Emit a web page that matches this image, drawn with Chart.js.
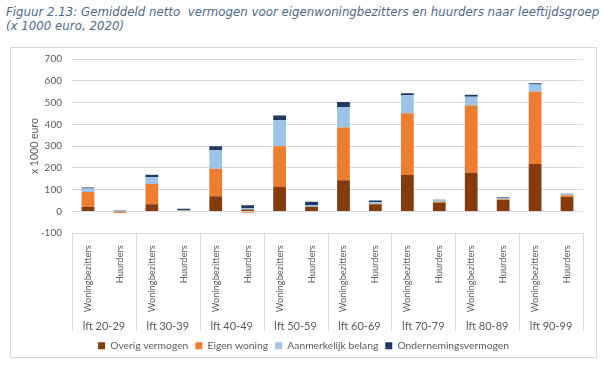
<!DOCTYPE html>
<html><head><meta charset="utf-8">
<script src="https://cdn.jsdelivr.net/npm/chart.js@4"></script>
<style>
html,body{margin:0;padding:0;background:#fff;width:603px;height:365px;overflow:hidden}
#title{position:absolute;left:6px;top:5px;font-family:"DejaVu Sans";font-style:italic;font-size:11.8px;line-height:14px;color:#4e6a88;white-space:nowrap}
#box{position:absolute;left:10px;top:47px;width:585px;height:309px;border:1px solid #d9d9d9}
canvas{display:block}
</style></head><body>
<div id="title">Figuur 2.13: Gemiddeld netto&nbsp; vermogen voor eigenwoningbezitters en huurders naar leeftijdsgroep<br>(x 1000 euro, 2020)</div>
<div id="box"><canvas id="c" width="585" height="309" style="width:585px;height:309px"></canvas></div>
<script>
const groups = ['lft 20-29','lft 30-39','lft 40-49','lft 50-59','lft 60-69','lft 70-79','lft 80-89','lft 90-99'];
const subLabels = ['Woningbezitters','Huurders','Woningbezitters','Huurders','Woningbezitters','Huurders','Woningbezitters','Huurders',
                   'Woningbezitters','Huurders','Woningbezitters','Huurders','Woningbezitters','Huurders','Woningbezitters','Huurders'];
const overigVermogen      = [21, 1, 33, 2, 70, 9, 112, 21, 143, 33, 167, 40, 178, 52, 218, 66];
const eigenWoning         = [68, -7, 93, 1, 126, -6, 187, 1, 242, 2, 284, 4, 309, 4, 332, 8];
const aanmerkelijkBelang  = [16, 3, 32, 2, 85, 7, 120, 8, 95, 7, 83, 8, 40, 7, 33, 5];
const ondernemingsvermogen= [5, 2, 10, 7, 18, 12, 22, 15, 22, 8, 9, 2, 9, 3, 6, 2];
const yTicks = {min: -100, max: 700, step: 100};

const txt = '#595959';
const fontFam = 'Lato';

const separators = {
  id: 'separators',
  afterDraw(chart) {
    const x = chart.scales.x, x2 = chart.scales.x2, ctx = chart.ctx;
    const per = subLabels.length / groups.length;
    ctx.save();
    ctx.strokeStyle = '#d9d9d9';
    ctx.lineWidth = 1;
    for (let g = 0; g <= groups.length; g++) {
      let px;
      if (g === 0) px = chart.chartArea.left;
      else if (g === groups.length) px = chart.chartArea.right;
      else px = (x.getPixelForValue(per * g - 1) + x.getPixelForValue(per * g)) / 2;
      px = Math.round(px) + 0.5;
      ctx.beginPath();
      ctx.moveTo(px, chart.chartArea.bottom);
      ctx.lineTo(px, x2.top + 17);
      ctx.stroke();
    }
    ctx.restore();
  }
};

new Chart(document.getElementById('c'), {
  type: 'bar',
  data: {
    labels: subLabels,
    datasets: [
      {label: 'Overig vermogen', data: overigVermogen, backgroundColor: '#843C0C'},
      {label: 'Eigen woning', data: eigenWoning, backgroundColor: '#ED7D31'},
      {label: 'Aanmerkelijk belang', data: aanmerkelijkBelang, backgroundColor: '#9DC3E6'},
      {label: 'Ondernemingsvermogen', data: ondernemingsvermogen, backgroundColor: '#1F3864'}
    ]
  },
  plugins: [separators],
  options: {
    responsive: false,
    animation: false,
    devicePixelRatio: 1,
    datasets: {bar: {categoryPercentage: 1, barPercentage: 0.4}},
    layout: {padding: {left: 13, right: 13, top: 11, bottom: -4}},
    plugins: {
      tooltip: {enabled: false},
      legend: {
        position: 'bottom',
        labels: {boxWidth: 7, boxHeight: 7, padding: 7, color: txt, font: {family: fontFam, size: 10.3}}
      }
    },
    scales: {
      x: {
        stacked: true,
        weight: 0,
        grid: {display: false},
        border: {display: false},
        ticks: {autoSkip: false, maxRotation: 90, minRotation: 90, padding: 4, color: txt, font: {family: fontFam, size: 9.3}},
        afterFit(s) { s.height = 80; s.paddingTop = 0; s.paddingBottom = 0; }
      },
      x2: {
        type: 'category',
        labels: groups,
        position: 'bottom',
        weight: 1,
        offset: true,
        grid: {display: false},
        border: {display: false},
        ticks: {padding: -1, color: txt, font: {family: fontFam, size: 11}},
        afterFit(s) { s.height = 20.5; s.paddingTop = 0; s.paddingBottom = 0; }
      },
      y: {
        stacked: true,
        min: yTicks.min,
        max: yTicks.max,
        ticks: {stepSize: yTicks.step, padding: 10, color: txt, font: {family: fontFam, size: 10}},
        grid: {color: '#d9d9d9', drawTicks: false},
        border: {display: false},
        title: {display: true, text: 'x 1000 euro', color: txt, font: {family: fontFam, size: 10.5}, padding: {top: 4.4, bottom: 0}},
        afterFit(s) { s.width = 48; s.paddingTop = 0; s.paddingBottom = 0; }
      }
    }
  }
});
</script>
</body></html>
